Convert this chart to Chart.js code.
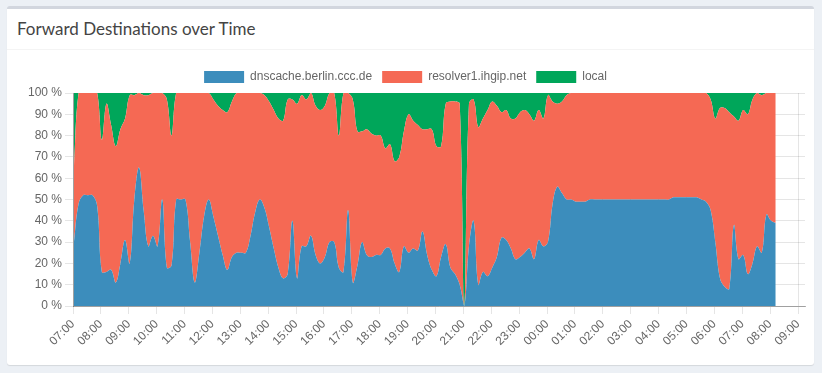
<!DOCTYPE html>
<html>
<head>
<meta charset="utf-8">
<script src="https://cdn.jsdelivr.net/npm/chart.js@4.4.0/dist/chart.umd.min.js"></script>
<style>
  html, body { margin: 0; padding: 0; }
  body { width: 822px; height: 373px; background: #ecf0f5; position: relative; overflow: hidden; }
  .box {
    position: absolute; left: 7px; top: 6px; width: 807px; height: 356px;
    background: #fff; border-top: 3px solid #d2d6de; border-radius: 3px;
    box-shadow: 0 1px 1px rgba(0,0,0,0.1);
  }
  .box-header {
    height: 40px; border-bottom: 1px solid #f4f4f4;
    font-family: Lato, "Noto Sans", sans-serif; font-size: 17px; color: #444;
    line-height: 40px; padding-left: 10px;
  }
  .chart-wrap { position: absolute; left: 6px; top: 61px; width: 806px; height: 295px; }
</style>
</head>
<body>
<div class="box">
  <div class="box-header">Forward Destinations over Time</div>
</div>
<div class="chart-wrap"><canvas id="forwardDestinationChart"></canvas></div>
<script>
// share of queries per 10 minute slot, first slot just after 07:00
const destinations = ["dnscache.berlin.ccc.de", "resolver1.ihgip.net", "local"];
const colors = ["#3c8dbc", "#f56954", "#00a65a"];

const dnscache = [
  30, 48, 52, 52, 52, 47, 16, 16, 17, 11, 20, 31, 20, 50, 65, 45, 28, 33, 28, 50,
  18, 19, 50, 50, 50, 30, 11, 25, 42, 50, 42, 33, 24, 17, 23, 25, 25, 25, 33, 44,
  50, 46, 37, 27, 18, 13, 15, 40, 13, 28, 28, 33, 24, 20, 23, 30, 30, 18, 16, 45,
  11, 19, 30, 24, 23, 24, 24, 27, 27, 20, 16, 28, 25, 27, 26, 35, 24, 17, 14, 23,
  29, 18, 15, 10, 0, 28, 40, 10, 16, 14, 18, 23, 32, 31, 27, 22, 23, 25, 27, 22,
  31, 28, 30, 48, 56, 53, 50, 50, 49, 49, 49, 50, 50, 50, 50, 50, 50, 50, 50, 50,
  50, 50, 50, 50, 50, 50, 50, 50, 50, 51, 51, 51, 51, 51, 51, 50, 49, 45, 30, 13,
  9, 8, 38, 22, 24, 15, 20, 28, 25, 43, 40, 39
];
const resolver1 = [
  35, 52, 48, 48, 48, 53, 62, 79, 68, 64, 63, 57, 79, 49, 35, 54, 71, 67, 72, 50,
  79, 61, 50, 50, 50, 70, 89, 75, 58, 50, 55, 61, 68, 74, 73, 75, 75, 75, 67, 56,
  50, 53, 59, 65, 70, 74, 82, 57, 82, 71, 69, 67, 70, 72, 71, 70, 70, 62, 84, 55,
  86, 63, 52, 59, 58, 56, 56, 47, 49, 48, 54, 54, 65, 60, 59, 48, 59, 66, 61, 52,
  66, 78, 81, 85, 0, 67, 57, 74, 72, 78, 78, 71, 59, 61, 61, 66, 68, 67, 63, 65,
  61, 60, 69, 48, 39, 43, 49, 50, 51, 51, 51, 50, 50, 50, 50, 50, 50, 50, 50, 50,
  50, 50, 50, 50, 50, 50, 50, 50, 50, 49, 49, 49, 49, 49, 49, 50, 51, 52, 58, 80,
  84, 83, 51, 65, 68, 75, 77, 72, 74, 57, 60, 61
];
const local = [
  35, 0, 0, 0, 0, 0, 22, 5, 15, 25, 17, 12, 1, 1, 0, 1, 1, 0, 0, 0,
  3, 20, 0, 0, 0, 0, 0, 0, 0, 0, 3, 6, 8, 9, 4, 0, 0, 0, 0, 0,
  0, 1, 4, 8, 12, 13, 3, 3, 5, 1, 3, 0, 6, 8, 6, 0, 0, 20, 0, 0,
  3, 18, 18, 17, 19, 20, 20, 26, 24, 32, 30, 18, 10, 13, 15, 17, 17, 17, 25, 25,
  5, 4, 4, 5, 100, 5, 3, 16, 12, 8, 4, 6, 9, 8, 12, 12, 9, 8, 10, 13,
  8, 12, 1, 4, 5, 4, 1, 0, 0, 0, 0, 0, 0, 0, 0, 0, 0, 0, 0, 0,
  0, 0, 0, 0, 0, 0, 0, 0, 0, 0, 0, 0, 0, 0, 0, 0, 0, 3, 12, 7,
  7, 9, 11, 13, 8, 10, 3, 0, 1, 0, 0, 0
];
const series = [dnscache, resolver1, local];

// x in minutes after 07:00; axis runs a little past 09:00 next day
const firstSlot = 2;
const slotMinutes = dnscache.map((_, i) => firstSlot + i * 10);
const axisMax = 26 * 60 + 15;

function hourLabel(v) {
  const h = (7 + Math.round(v / 60)) % 24;
  return (h < 10 ? "0" : "") + h + ":00";
}

const ctx = document.getElementById("forwardDestinationChart").getContext("2d");
const chart = new Chart(ctx, {
  type: "line",
  data: {
    datasets: destinations.map((name, k) => ({
      label: name,
      data: series[k].map((v, i) => ({ x: slotMinutes[i], y: v })),
      backgroundColor: colors[k],
      borderColor: colors[k],
      borderWidth: 0,
      fill: k === 0 ? "origin" : "-1",
      pointRadius: 0,
      tension: 0.4
    }))
  },
  options: {
    responsive: true,
    maintainAspectRatio: false,
    animation: false,
    layout: { padding: { right: 7 } },
    plugins: {
      legend: {
        labels: { color: "#666", font: { size: 12 }, boxWidth: 40, boxHeight: 12 }
      },
      tooltip: { enabled: false }
    },
    scales: {
      x: {
        type: "linear",
        min: 0,
        max: axisMax,
        afterFit: s => { s.height = 50; },
        grid: { color: "rgba(0,0,0,0.1)", tickLength: 8 },
        border: { color: "rgba(0,0,0,0.3)" },
        ticks: {
          stepSize: 60,
          includeBounds: false,
          autoSkip: false,
          maxRotation: 45,
          minRotation: 45,
          color: "#666",
          font: { size: 12 },
          callback: v => hourLabel(v)
        }
      },
      y: {
        stacked: true,
        min: 0,
        max: 100,
        afterFit: s => { s.width = 67; },
        grid: { color: "rgba(0,0,0,0.1)", tickLength: 8 },
        border: { color: "rgba(0,0,0,0.3)" },
        ticks: {
          stepSize: 10,
          color: "#666",
          font: { size: 12 },
          callback: v => v + " %"
        }
      }
    }
  }
});
</script>
</body>
</html>
